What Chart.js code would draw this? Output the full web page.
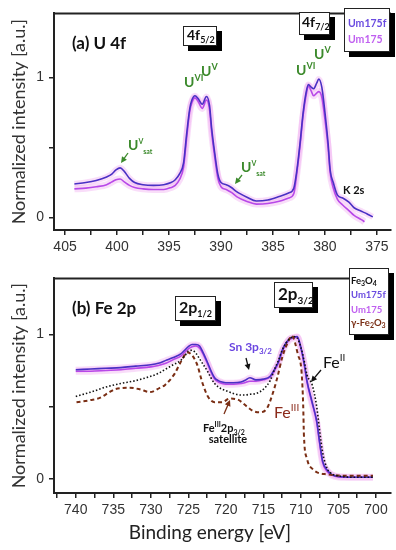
<!DOCTYPE html>
<html>
<head>
<meta charset="utf-8">
<script src="https://cdn.jsdelivr.net/npm/chart.js@4.4.1/dist/chart.umd.min.js"></script>
<style>
body { margin: 0; background: #fff; }
canvas { display: block; }
</style>
</head>
<body>
<canvas id="u4f" width="396" height="265"></canvas>
<canvas id="fe2p" width="396" height="285"></canvas>
<script>
// (a) U 4f
var uBE = [404.1, 403, 402, 401, 400.5, 400.1, 399.7, 399.3, 398.8, 398.3, 397.5, 396.5, 395.5, 394.8, 394.4, 394, 393.6, 393.3, 393, 392.8,
    392.5, 392.2, 391.8, 391.4, 391.1, 390.9, 390.6, 390.3, 390, 389.5, 389, 388.5, 387.5, 386.6, 385.5, 384.4, 383.5, 383, 382.7, 382.4,
    382.1, 381.8, 381.6, 381.3, 381.1, 380.8, 380.6, 380.3, 380, 379.7, 379.5, 379.2, 378.8, 378.3, 377.7, 377.2, 376.5, 376.2, 375.8, 375.4];
var uUm175f = [0.24, 0.25, 0.265, 0.29, 0.31, 0.34, 0.355, 0.33, 0.28, 0.25, 0.235, 0.23, 0.235, 0.25, 0.27, 0.31, 0.39, 0.6, 0.78, 0.84,
    0.87, 0.85, 0.81, 0.865, 0.8, 0.64, 0.46, 0.31, 0.25, 0.235, 0.215, 0.185, 0.145, 0.118, 0.125, 0.15, 0.175, 0.21, 0.34, 0.53,
    0.75, 0.9, 0.95, 0.93, 0.92, 0.96, 0.99, 0.93, 0.75, 0.53, 0.34, 0.25, 0.16, 0.14, 0.11, 0.07, 0.045, 0.035, 0.02, 0.005];
var uUm175 = [0.205, 0.21, 0.22, 0.235, 0.255, 0.27, 0.275, 0.255, 0.23, 0.215, 0.205, 0.2, 0.2, 0.215, 0.23, 0.27, 0.36, 0.57, 0.76, 0.82,
    0.855, 0.83, 0.78, 0.84, 0.77, 0.61, 0.43, 0.28, 0.22, 0.2, 0.18, 0.15, 0.115, 0.096, 0.1, 0.116, 0.14, 0.17, 0.32, 0.51,
    0.73, 0.88, 0.94, 0.9, 0.87, 0.89, 0.9, 0.86, 0.7, 0.5, 0.32, 0.21, 0.13, 0.09, 0.05, 0.015, -0.015, -0.03, null, null];
var uLabeled = [405, 400, 395, 390, 385, 380, 375];

// (b) Fe 2p
var feBE = [740, 738, 736, 734, 732, 730, 729, 728, 727, 726, 725.5, 725, 724.5, 724, 723.5, 723, 722.4, 722, 721.5, 721,
    720.5, 720, 719, 718, 717.5, 716.8, 716, 715, 714.1, 713.5, 713, 712.5, 712, 711.5, 711, 710.5, 710, 709.5, 709.2, 708.5,
    707.9, 707.5, 707.1, 706.5, 705.9, 705, 703, 700.4];
var feUm175f = [0.755, 0.76, 0.765, 0.77, 0.78, 0.79, 0.8, 0.82, 0.84, 0.865, 0.89, 0.915, 0.93, 0.93, 0.92, 0.87, 0.8, 0.75, 0.7, 0.68,
    0.67, 0.665, 0.665, 0.67, 0.68, 0.7, 0.685, 0.69, 0.71, 0.76, 0.81, 0.89, 0.94, 0.97, 0.98, 0.985, 0.91, 0.78, 0.68, 0.53,
    0.4, 0.25, 0.12, 0.06, 0.03, 0.015, 0.01, 0.01];
var feUm175 = [0.745, 0.745, 0.75, 0.755, 0.765, 0.775, 0.785, 0.8, 0.825, 0.85, 0.875, 0.9, 0.915, 0.92, 0.905, 0.86, 0.79, 0.74, 0.69, 0.67,
    0.66, 0.655, 0.655, 0.66, 0.665, 0.675, 0.675, 0.685, 0.705, 0.75, 0.8, 0.88, 0.93, 0.965, 0.975, 0.98, 0.9, 0.77, 0.67, 0.52,
    0.39, 0.24, 0.11, 0.05, 0.025, 0.012, 0.01, 0.01];
var feFe3O4 = [0.57, 0.6, 0.635, 0.66, 0.68, 0.71, 0.73, 0.76, 0.79, 0.82, 0.85, 0.885, 0.89, 0.87, 0.83, 0.79, 0.74, 0.7, 0.66, 0.635,
    0.62, 0.61, 0.59, 0.58, 0.58, 0.585, 0.59, 0.62, 0.68, 0.76, 0.82, 0.89, 0.94, 0.97, 0.985, 0.975, 0.91, 0.8, 0.72, 0.65,
    0.5, 0.33, 0.18, 0.07, 0.035, 0.02, 0.01, 0.01];
var maghBE = [739.9, 738, 736.8, 735.5, 734.8, 732.8, 731.5, 730.1, 728.8, 728.1, 726.8, 726.1, 725.1, 723.9, 723.1, 722.4, 721.5, 720.5, 719.5, 718.5,
    717.2, 716.4, 715.5, 714.5, 713.7, 713.1, 712.5, 711.7, 711.2, 710.4, 709.9, 709.7, 709.6, 709.2, 708.4, 706.5, 703, 700.4];
var maghFe2O3 = [0.53, 0.545, 0.56, 0.6, 0.62, 0.63, 0.62, 0.6, 0.63, 0.65, 0.73, 0.8, 0.875, 0.8, 0.66, 0.57, 0.53, 0.53, 0.555, 0.55,
    0.5, 0.47, 0.46, 0.49, 0.6, 0.71, 0.84, 0.95, 0.99, 0.86, 0.73, 0.51, 0.3, 0.14, 0.065, 0.03, 0.02, 0.02];
var feLabeled = [740, 735, 730, 725, 720, 715, 710, 705, 700];

var cUm175f = '#4a30c4', cUm175 = '#b848e8', cGlow = 'rgba(240,165,240,0.38)';
var cGreen = '#3c8a2c', cBrown = '#7a2e14';

Chart.defaults.font.family = 'Liberation Sans';
Chart.defaults.color = '#333';

function pts(xs, ys) {
    return xs.map(function (x, i) { return { x: x, y: ys[i] }; });
}

function rich(ctx, x, y, parts, color) {
    parts.forEach(function (p) {
        ctx.font = (p.b ? 'bold ' : '') + p.s + 'px Lato';
        ctx.fillStyle = p.c || color;
        ctx.fillText(p.t, x, y + (p.dy || 0));
        x += ctx.measureText(p.t).width;
    });
}

function shadowBox(ctx, x, y, w, h, off) {
    ctx.fillStyle = '#000';
    ctx.fillRect(x + off, y + off, w, h);
    ctx.fillStyle = '#fff';
    ctx.fillRect(x, y, w, h);
    ctx.strokeStyle = '#222';
    ctx.lineWidth = 1;
    ctx.strokeRect(x + 0.5, y + 0.5, w - 1, h - 1);
}

function arrow(ctx, x1, y1, x2, y2, color) {
    var a = Math.atan2(y2 - y1, x2 - x1);
    ctx.strokeStyle = color;
    ctx.fillStyle = color;
    ctx.lineWidth = 1.3;
    ctx.beginPath();
    ctx.moveTo(x1, y1);
    ctx.lineTo(x2 - 4 * Math.cos(a), y2 - 4 * Math.sin(a));
    ctx.stroke();
    ctx.beginPath();
    ctx.moveTo(x2, y2);
    ctx.lineTo(x2 - 6 * Math.cos(a) + 3 * Math.sin(a), y2 - 6 * Math.sin(a) - 3 * Math.cos(a));
    ctx.lineTo(x2 - 6 * Math.cos(a) - 3 * Math.sin(a), y2 - 6 * Math.sin(a) + 3 * Math.cos(a));
    ctx.closePath();
    ctx.fill();
}

function line(label, data, color, width, dash) {
    return {
        label: label, data: data, borderColor: color, borderWidth: width,
        borderDash: dash || [], pointRadius: 0, cubicInterpolationMode: 'monotone', fill: false
    };
}

function scales(xmin, xmax, ymin, ymax, labeled, xh) {
    var grid = { drawOnChartArea: false, drawTicks: true, tickLength: 5, color: '#222', lineWidth: 1.5 };
    return {
        x: {
            type: 'linear', reverse: true, min: xmin, max: xmax,
            border: { color: '#222', width: 2 }, grid: grid,
            ticks: {
                stepSize: 2.5, includeBounds: false, autoSkip: false, maxRotation: 0, padding: 4,
                font: { size: 14 },
                callback: function (v) { return labeled.indexOf(v) >= 0 ? v : ''; }
            },
            afterFit: function (s) { s.height = xh; }
        },
        y: {
            min: ymin, max: ymax,
            border: { color: '#222', width: 2 }, grid: grid,
            ticks: {
                stepSize: 0.5, includeBounds: false, padding: 5, font: { size: 14 },
                callback: function (v) { return v === 0 || v === 1 ? v : ''; }
            },
            title: {
                display: true, text: 'Normalized intensity [a.u.]', color: '#333',
                font: { family: 'Lato', size: 18 }, padding: { top: 8, bottom: 0 }
            },
            afterFit: function (s) { s.width = 54; }
        }
    };
}

function topBorder(chart) {
    var ctx = chart.ctx, a = chart.chartArea;
    ctx.strokeStyle = '#222';
    ctx.lineWidth = 2;
    ctx.beginPath();
    ctx.moveTo(a.left, a.top);
    ctx.lineTo(a.right, a.top);
    ctx.stroke();
}

new Chart(document.getElementById('u4f'), {
    type: 'line',
    data: {
        datasets: [
            line('Um175f', pts(uBE, uUm175f), cUm175f, 1.6),
            line('Um175', pts(uBE, uUm175), cUm175, 1.6),
            line('glow f', pts(uBE, uUm175f), cGlow, 6),
            line('glow', pts(uBE, uUm175), cGlow, 7)
        ]
    },
    options: {
        responsive: false, animation: false,
        layout: { padding: { top: 4, right: 5, left: 0, bottom: 0 } },
        plugins: { legend: { display: false }, tooltip: { enabled: false } },
        scales: scales(373.65, 406.06, -0.089, 1.459, uLabeled, 35)
    },
    plugins: [{
        id: 'u4fDeco',
        afterDraw: function (chart) {
            var ctx = chart.ctx;
            topBorder(chart);
            ctx.save();
            ctx.textBaseline = 'alphabetic';
            rich(ctx, 72, 49, [{ t: '(a) U 4f', s: 17, b: 1 }], '#111');
            shadowBox(ctx, 183, 26, 34, 20, 5);
            rich(ctx, 187, 40, [{ t: '4f', s: 14, b: 1 }, { t: '5/2', s: 9, b: 1, dy: 3 }], '#111');
            shadowBox(ctx, 299, 12, 31, 23, 5);
            rich(ctx, 302, 27, [{ t: '4f', s: 14, b: 1 }, { t: '7/2', s: 9, b: 1, dy: 3 }], '#111');
            shadowBox(ctx, 344, 8, 46, 44, 5);
            rich(ctx, 348, 27, [{ t: 'Um175f', s: 10.5, b: 1 }], '#6a4be0');
            rich(ctx, 348, 43, [{ t: 'Um175', s: 10.5, b: 1 }], '#c060f0');
            rich(ctx, 184, 87, [{ t: 'U', s: 14, b: 1 }, { t: 'VI', s: 9, b: 1, dy: -6 }], cGreen);
            rich(ctx, 201, 76, [{ t: 'U', s: 14, b: 1 }, { t: 'V', s: 9, b: 1, dy: -6 }], cGreen);
            rich(ctx, 296, 75, [{ t: 'U', s: 14, b: 1 }, { t: 'VI', s: 9, b: 1, dy: -6 }], cGreen);
            rich(ctx, 314, 59, [{ t: 'U', s: 14, b: 1 }, { t: 'V', s: 9, b: 1, dy: -6 }], cGreen);
            rich(ctx, 128, 150, [{ t: 'U', s: 14, b: 1 }, { t: 'V', s: 7, b: 1, dy: -6 }, { t: 'sat', s: 7, dy: 4, b: 1 }], cGreen);
            arrow(ctx, 128, 153, 121, 163, cGreen);
            rich(ctx, 241, 172, [{ t: 'U', s: 14, b: 1 }, { t: 'V', s: 7, b: 1, dy: -6 }, { t: 'sat', s: 7, dy: 4, b: 1 }], cGreen);
            arrow(ctx, 242, 175, 235, 184, cGreen);
            rich(ctx, 343, 194, [{ t: 'K 2s', s: 11, b: 1 }], '#111');
            ctx.restore();
        }
    }]
});

new Chart(document.getElementById('fe2p'), {
    type: 'line',
    data: {
        datasets: [
            line('Fe3O4', pts(feBE, feFe3O4), '#111', 1.6, [1.5, 2]),
            line('γ-Fe2O3', pts(maghBE, maghFe2O3), cBrown, 2, [4, 3]),
            line('Um175f', pts(feBE, feUm175f), cUm175f, 1.6),
            line('Um175', pts(feBE, feUm175), cUm175, 1.6),
            line('glow f', pts(feBE, feUm175f), cGlow, 6),
            line('glow', pts(feBE, feUm175), cGlow, 7)
        ]
    },
    options: {
        responsive: false, animation: false,
        layout: { padding: { top: 2, right: 5, left: 0, bottom: 0 } },
        plugins: { legend: { display: false }, tooltip: { enabled: false } },
        scales: scales(698, 742.9, -0.099, 1.388, feLabeled, 57)
    },
    plugins: [{
        id: 'fe2pDeco',
        afterDraw: function (chart) {
            var ctx = chart.ctx;
            topBorder(chart);
            ctx.save();
            ctx.textBaseline = 'alphabetic';
            rich(ctx, 72, 49, [{ t: '(b) Fe 2p', s: 17, b: 1 }], '#111');
            shadowBox(ctx, 175, 31, 41, 25, 5);
            rich(ctx, 179, 48, [{ t: '2p', s: 16, b: 1 }, { t: '1/2', s: 9, b: 1, dy: 4 }], '#111');
            shadowBox(ctx, 274, 17, 39, 26, 5);
            rich(ctx, 278, 35, [{ t: '2p', s: 17, b: 1 }, { t: '3/2', s: 10, b: 1, dy: 4 }], '#111');
            shadowBox(ctx, 349, 3, 40, 67, 5);
            rich(ctx, 351, 19, [{ t: 'Fe', s: 9.5, b: 1 }, { t: '3', s: 7, b: 1, dy: 2 }, { t: 'O', s: 9.5, b: 1 }, { t: '4', s: 7, b: 1, dy: 2 }], '#111');
            rich(ctx, 351, 33, [{ t: 'Um175f', s: 9.5, b: 1 }], '#6a4be0');
            rich(ctx, 351, 48, [{ t: 'Um175', s: 9.5, b: 1 }], '#c060f0');
            rich(ctx, 351, 61, [{ t: 'γ-Fe', s: 9.5, b: 1 }, { t: '2', s: 7, b: 1, dy: 2 }, { t: 'O', s: 9.5, b: 1 }, { t: '3', s: 7, b: 1, dy: 2 }], cBrown);
            rich(ctx, 229, 86, [{ t: 'Sn 3p', s: 12, b: 1 }, { t: '3/2', s: 8, b: 1, dy: 3 }], '#6a45e0');
            arrow(ctx, 246, 93, 249, 105, '#111');
            rich(ctx, 323, 103, [{ t: 'Fe', s: 16 }, { t: 'II', s: 10, dy: -7 }], '#111');
            arrow(ctx, 321, 105, 311, 117, '#111');
            rich(ctx, 274, 153, [{ t: 'Fe', s: 16 }, { t: 'III', s: 10, dy: -7 }], '#8b2a1a');
            rich(ctx, 203, 167, [{ t: 'Fe', s: 11, b: 1 }, { t: 'III', s: 7, b: 1, dy: -5 }, { t: '2p', s: 11, b: 1 }, { t: '3/2', s: 7, b: 1, dy: 3 }], '#111');
            ctx.font = 'bold 11px Lato';
            ctx.fillStyle = '#111';
            ctx.textAlign = 'center';
            ctx.fillText('satellite', 228, 178);
            arrow(ctx, 224, 149, 230, 135, cBrown);
            ctx.font = '19px Lato';
            ctx.fillStyle = '#222';
            ctx.textBaseline = 'middle';
            ctx.fillText('Binding energy [eV]', 210, 268);
            ctx.restore();
        }
    }]
});
</script>
</body>
</html>
